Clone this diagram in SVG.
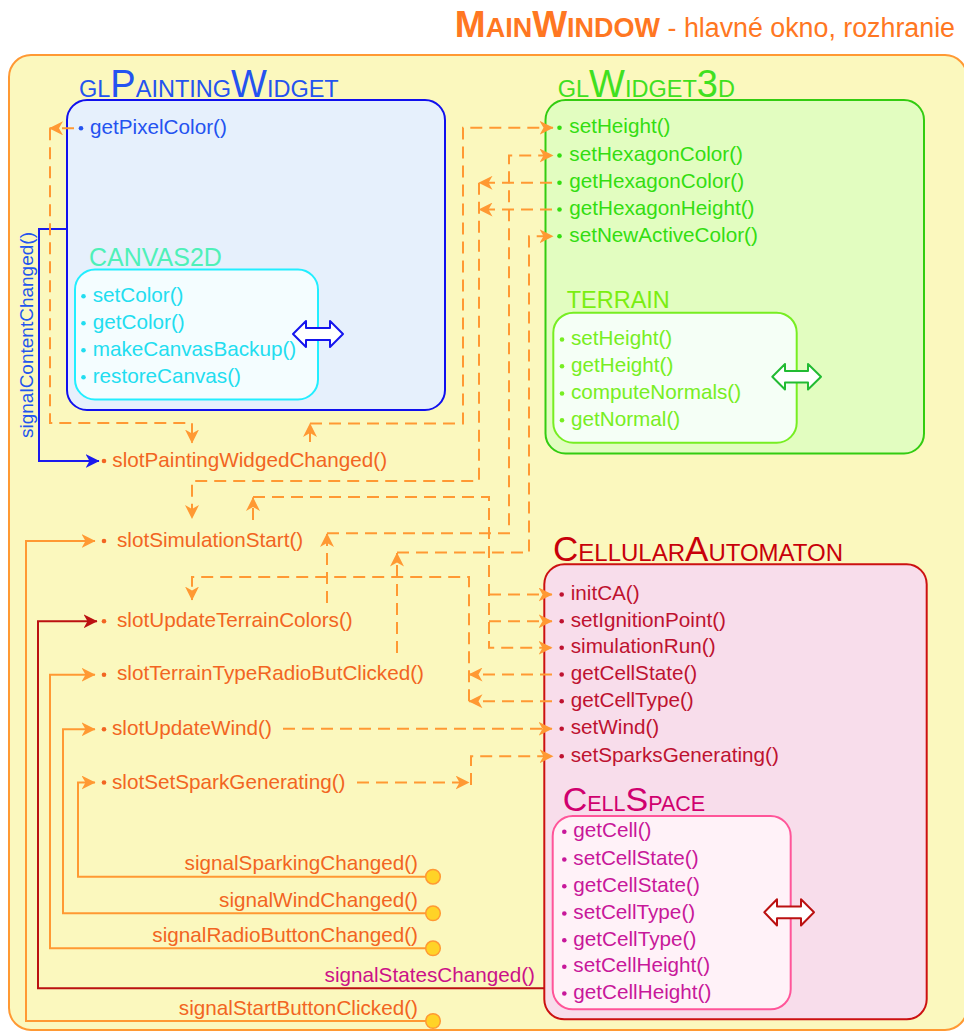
<svg xmlns="http://www.w3.org/2000/svg" width="964" height="1032" viewBox="0 0 964 1032">
<defs>
<marker id="ao" viewBox="0 0 14 14" refX="13.5" refY="7" markerWidth="14" markerHeight="14" markerUnits="userSpaceOnUse" orient="auto"><path d="M0,0 L14,7 L0,14 L4,7 Z" fill="#FF9933"/></marker>
<marker id="ab" viewBox="0 0 14 14" refX="13.5" refY="7" markerWidth="14" markerHeight="14" markerUnits="userSpaceOnUse" orient="auto"><path d="M0,0 L14,7 L0,14 L4,7 Z" fill="#1A1AEE"/></marker>
<marker id="ar" viewBox="0 0 14 14" refX="13.5" refY="7" markerWidth="14" markerHeight="14" markerUnits="userSpaceOnUse" orient="auto"><path d="M0,0 L14,7 L0,14 L4,7 Z" fill="#BB1111"/></marker>
</defs>
<style>
text{font-family:"Liberation Sans",Arial,sans-serif}
.it{font-size:20.7px}
.sol{fill:none;stroke:#FF9933;stroke-width:2}
.dash{fill:none;stroke:#FF9933;stroke-width:2;stroke-dasharray:12 7}
.arr{marker-end:url(#ao)}
.slot{fill:#F26522}
.sig{fill:#F26522;text-anchor:end}
.dot-o{fill:#F26522}
.pin{fill:#FFD327;stroke:#FF9933;stroke-width:1.5}
.dbl{fill:#FFFFFF;stroke-width:2;stroke-linejoin:round}
</style>

<g id="mainwindow">
<rect x="9" y="55" width="958" height="975" rx="22" fill="#FBF8BE" stroke="#FF9933" stroke-width="2"/>
<text x="955" y="37.3" text-anchor="end" fill="#FF7722"><tspan font-weight="bold" font-size="37">M</tspan><tspan font-weight="bold" font-size="27">AIN</tspan><tspan font-weight="bold" font-size="37">W</tspan><tspan font-weight="bold" font-size="27">INDOW</tspan><tspan font-size="26.8"> - hlavné okno, rozhranie</tspan></text>
</g>

<g id="glPaintingWidget">
<rect x="67" y="100" width="378" height="310" rx="20" fill="#E6F0FC" stroke="#1010EE" stroke-width="2"/>
<text x="79" y="96.7" fill="#2453F0"><tspan font-size="23.5">GL</tspan><tspan font-size="38">P</tspan><tspan font-size="23.5">AINTING</tspan><tspan font-size="38">W</tspan><tspan font-size="23.5">IDGET</tspan></text>
<circle cx="81" cy="128.3" r="2.3" fill="#2453F0"/>
<text class="it" x="90" y="134.3" fill="#2453F0">getPixelColor()</text>
</g>

<g id="canvas2d">
<text x="89" y="266" font-size="25" fill="#4FF0B8">CANVAS2D</text>
<rect x="75" y="269.5" width="243" height="130" rx="20" fill="#F4FDFF" stroke="#22EEFF" stroke-width="2"/>
<g fill="#22DDF0">
<circle cx="83.5" cy="296.3" r="2.3"/><text class="it" x="92.7" y="302">setColor()</text>
<circle cx="83.5" cy="323.3" r="2.3"/><text class="it" x="92.7" y="329">getColor()</text>
<circle cx="83.5" cy="350.3" r="2.3"/><text class="it" x="92.7" y="356">makeCanvasBackup()</text>
<circle cx="83.5" cy="377.3" r="2.3"/><text class="it" x="92.7" y="383">restoreCanvas()</text>
</g>
<path class="dbl" stroke="#1515EE" d="M293,334 L306,321 L306,328 L330,328 L330,321 L343,334 L330,347 L330,340 L306,340 L306,347 Z"/>
</g>

<g id="glWidget3D">
<rect x="545.5" y="100" width="378.5" height="353.5" rx="20" fill="#E2FDC0" stroke="#33CC11" stroke-width="2"/>
<text x="557.7" y="96.7" fill="#40E020"><tspan font-size="23.5">GL</tspan><tspan font-size="38">W</tspan><tspan font-size="23.5">IDGET</tspan><tspan font-size="38">3</tspan><tspan font-size="23.5">D</tspan></text>
<g fill="#33DD11">
<circle cx="559.5" cy="127.8" r="2.3"/><text class="it" x="569.3" y="133.3">setHeight()</text>
<circle cx="559.5" cy="155.5" r="2.3"/><text class="it" x="569.3" y="161">setHexagonColor()</text>
<circle cx="559.5" cy="182.8" r="2.3"/><text class="it" x="569.3" y="188.3">getHexagonColor()</text>
<circle cx="559.5" cy="209.5" r="2.3"/><text class="it" x="569.3" y="215">getHexagonHeight()</text>
<circle cx="559.5" cy="236.2" r="2.3"/><text class="it" x="569.3" y="241.7">setNewActiveColor()</text>
</g>
</g>

<g id="terrain">
<text x="566.7" y="308.3" font-size="23.5" fill="#7AEE10">TERRAIN</text>
<rect x="553.3" y="312.7" width="243.4" height="130" rx="20" fill="#F5FFF6" stroke="#77EE22" stroke-width="2"/>
<g fill="#77EE22">
<circle cx="562" cy="339.5" r="2.3"/><text class="it" x="571" y="345">setHeight()</text>
<circle cx="562" cy="366.2" r="2.3"/><text class="it" x="571" y="371.7">getHeight()</text>
<circle cx="562" cy="393.5" r="2.3"/><text class="it" x="571" y="399">computeNormals()</text>
<circle cx="562" cy="420.2" r="2.3"/><text class="it" x="571" y="425.7">getNormal()</text>
</g>
<path class="dbl" stroke="#22BB33" d="M772.3,376.7 L785,364 L785,371 L808,371 L808,364 L821,376.7 L808,389.5 L808,382.5 L785,382.5 L785,389.5 Z"/>
</g>

<g id="cellularAutomaton">
<text x="553" y="561" fill="#C8000A"><tspan font-size="35">C</tspan><tspan font-size="24">ELLULAR</tspan><tspan font-size="35">A</tspan><tspan font-size="24">UTOMATON</tspan></text>
<rect x="544.3" y="564.3" width="382.4" height="455" rx="20" fill="#F8DDEB" stroke="#CC1111" stroke-width="2"/>
<g fill="#BE1230">
<circle cx="561.7" cy="594.5" r="2.3"/><text class="it" x="570.7" y="600">initCA()</text>
<circle cx="561.7" cy="621.2" r="2.3"/><text class="it" x="570.7" y="626.7">setIgnitionPoint()</text>
<circle cx="561.7" cy="647.8" r="2.3"/><text class="it" x="570.7" y="653.3">simulationRun()</text>
<circle cx="561.7" cy="674.5" r="2.3"/><text class="it" x="570.7" y="680">getCellState()</text>
<circle cx="561.7" cy="701.2" r="2.3"/><text class="it" x="570.7" y="706.7">getCellType()</text>
<circle cx="561.7" cy="728.8" r="2.3"/><text class="it" x="570.7" y="734.3">setWind()</text>
<circle cx="561.7" cy="756.2" r="2.3"/><text class="it" x="570.7" y="761.7">setSparksGenerating()</text>
</g>
</g>

<g id="cellSpace">
<text x="562.7" y="811" fill="#D0006F"><tspan font-size="34">C</tspan><tspan font-size="21.5">ELL</tspan><tspan font-size="34">S</tspan><tspan font-size="21.5">PACE</tspan></text>
<rect x="552.7" y="816" width="238" height="193.3" rx="20" fill="#FFF2F8" stroke="#FF5599" stroke-width="2"/>
<g fill="#C8189A">
<circle cx="564.3" cy="831.8" r="2.3"/><text class="it" x="573.3" y="837.3">getCell()</text>
<circle cx="564.3" cy="859.5" r="2.3"/><text class="it" x="573.3" y="865">setCellState()</text>
<circle cx="564.3" cy="886.2" r="2.3"/><text class="it" x="573.3" y="891.7">getCellState()</text>
<circle cx="564.3" cy="913.5" r="2.3"/><text class="it" x="573.3" y="919">setCellType()</text>
<circle cx="564.3" cy="940.2" r="2.3"/><text class="it" x="573.3" y="945.7">getCellType()</text>
<circle cx="564.3" cy="966.8" r="2.3"/><text class="it" x="573.3" y="972.3">setCellHeight()</text>
<circle cx="564.3" cy="993.5" r="2.3"/><text class="it" x="573.3" y="999">getCellHeight()</text>
</g>
<path class="dbl" stroke="#BB1111" d="M764.3,912.3 L777,899.3 L777,906.5 L801,906.5 L801,899.3 L814,912.3 L801,925.5 L801,918.2 L777,918.2 L777,925.5 Z"/>
</g>

<g id="slots">
<g id="slotPaintingWidgedChanged"><circle class="dot-o" cx="104" cy="461" r="2.3"/><text class="it slot" x="112.3" y="466.7">slotPaintingWidgedChanged()</text></g>
<g id="slotSimulationStart"><circle class="dot-o" cx="104" cy="541" r="2.3"/><text class="it slot" x="117" y="546.7">slotSimulationStart()</text></g>
<g id="slotUpdateTerrainColors"><circle class="dot-o" cx="104" cy="621.3" r="2.3"/><text class="it slot" x="117" y="626.7">slotUpdateTerrainColors()</text></g>
<g id="slotTerrainTypeRadioButClicked"><circle class="dot-o" cx="104" cy="674.7" r="2.3"/><text class="it slot" x="117" y="680">slotTerrainTypeRadioButClicked()</text></g>
<g id="slotUpdateWind"><circle class="dot-o" cx="104" cy="729.3" r="2.3"/><text class="it slot" x="112" y="735">slotUpdateWind()</text></g>
<g id="slotSetSparkGenerating"><circle class="dot-o" cx="104" cy="782.5" r="2.3"/><text class="it slot" x="112" y="788.5">slotSetSparkGenerating()</text></g>
</g>

<g id="signals">
<g id="signalSparkingChanged"><text class="it sig" x="418" y="870.3">signalSparkingChanged()</text><circle class="pin" cx="433" cy="876.7" r="7.3"/></g>
<g id="signalWindChanged"><text class="it sig" x="418" y="906.7">signalWindChanged()</text><circle class="pin" cx="433" cy="913.3" r="7.3"/></g>
<g id="signalRadioButtonChanged"><text class="it sig" x="418" y="941.7">signalRadioButtonChanged()</text><circle class="pin" cx="433" cy="948.3" r="7.3"/></g>
<g id="signalStatesChanged"><text class="it" x="535" y="981.7" text-anchor="end" fill="#CC1188">signalStatesChanged()</text></g>
<g id="signalStartButtonClicked"><text class="it sig" x="418" y="1015">signalStartButtonClicked()</text><circle class="pin" cx="433" cy="1021" r="7.3"/></g>
<g id="signalContentChanged"><text x="33" y="438" font-size="19" fill="#2255EE" transform="rotate(-90 33 438)">signalContentChanged()</text></g>
</g>

<g id="connectors">
<path class="sol arr" d="M425.7,1021 H26 V541 H95"/>
<path class="sol arr" d="M425.7,948.3 H50 V674.7 H95"/>
<path class="sol arr" d="M425.7,913.3 H63 V729.3 H95"/>
<path class="sol arr" d="M425.7,876.7 H78 V782.5 H95"/>
<path d="M544,988.3 H38 V621.3 H97" fill="none" stroke="#BB1111" stroke-width="2" marker-end="url(#ar)"/>
<path d="M67,229 H39 V461 H99" fill="none" stroke="#1A1AEE" stroke-width="2" marker-end="url(#ab)"/>

<path class="dash arr" d="M74,128.3 H49.5"/>
<path class="dash arr" d="M50,128.3 V423 H192 V443"/>
<path class="dash arr" d="M310,442 V423.5"/>
<path class="dash arr" d="M310,423.5 H463 V127.8 H553"/>
<path class="dash arr" d="M552,182.8 H479"/>
<path class="dash arr" d="M552,209.5 H479"/>
<path class="dash arr" d="M479,182.8 V481 H192 V518.5"/>
<path class="dash arr" d="M253,520 V497.5"/>
<path class="dash arr" d="M253,497 H489 V647.8 H552"/>
<path class="dash arr" d="M489,594.5 H552"/>
<path class="dash arr" d="M489,621.2 H552"/>
<path class="dash arr" d="M327,603 V533.5"/>
<path class="dash arr" d="M327,533.3 H509 V155.5 H553"/>
<path class="dash arr" d="M397,653 V553"/>
<path class="dash arr" d="M397,552.5 H529 V236.2 H553"/>
<path class="dash arr" d="M552,674.5 H469"/>
<path class="dash arr" d="M552,701.2 H469"/>
<path class="dash arr" d="M469,701.2 V577 H192 V600"/>
<path class="dash arr" d="M283,728.8 H552"/>
<path class="dash arr" d="M357,782.5 H469"/>
<path class="dash arr" d="M471,785 V756.2 H553"/>
</g>
</svg>
